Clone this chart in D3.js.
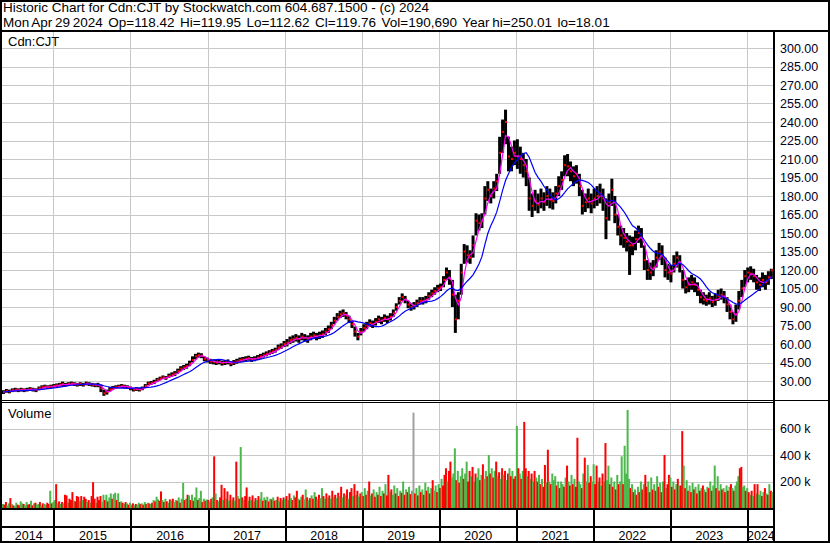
<!DOCTYPE html>
<meta charset="utf-8">
<script src="https://cdn.jsdelivr.net/npm/d3@7"></script>
<body style="margin:0">
<script>

// header texts
var title1 = "Historic Chart for Cdn:CJT by Stockwatch.com 604.687.1500 - (c) 2024";
var title2 = "Mon Apr 29 2024  Op=118.42  Hi=119.95  Lo=112.62  Cl=119.76  Vol=190,690  Year hi=250.01  lo=18.01";

// price bars, one every 14 days from 2 May 2014
var firstBar = new Date(2014, 4, 2);
var close = [
  21,22,21.5,22.5,23,22.5,23,22.5,23,23.5,23,22.5,24,25,25.5,25,25.5,26,
  26.5,27,27.5,27,27.5,28,27.5,27,27.5,27,28,27.5,27,26.5,27,24,20,21,23,24.5,25,25.5,26,25.5,25,24,
  23,23.5,23,24,26,28,28.5,29,31,32,33,32.5,34,35,36,38,40,41,42,44,47,50,51,50.5,48,47,
  46,45.5,45,45.5,44.5,45,45.5,44,45,46,47,47.5,48,48.5,47.5,48,49,50,51,52,53,54,55,57,58,60,
  61,63,64,65,64,66,65,64,66,67,66,67,68,70,72,75,79,82,84,85,83,80,76,70,66,70,
  73,75,77,76,78,80,79,81,80,82,85,90,95,98,96,92,90,91,93,95,95,96,99,101,103,105,
  106,112,118,113,100,80,95,118,135,132,130,140,160,158,160,178,185,180,186,192,215,232,240,212,210,215,
  212,210,205,200,178,172,176,173,178,175,180,177,176,182,188,193,205,204,200,196,198,188,172,175,178,174,
  178,180,182,178,162,175,185,165,155,148,146,143,140,140,145,150,146,128,120,118,122,130,135,132,120,118,
  117,125,130,126,112,106,108,110,108,104,98,96,95,97,94,96,99,100,98,92,86,80,84,95,105,115,
  118,117,115,110,108,112,110,114,119.76];
var high = [
  22.5,23.5,23,24,24.5,24,24.5,24,24.5,25,24.5,24,25.5,26.5,27,26.5,27,27.5,
  28,28.5,29.5,28.5,29,29.5,29,28.5,29,28.5,29.5,29,28.5,28,28.5,27,23,23,25,26,26.5,27,27.5,27,26.5,25.5,
  24.5,25,24.5,25.5,27.5,29.5,30,31,32.5,33.5,34.5,34,36,37,38,40,42,43,44,46.5,50,52,53,52.5,50,49,
  48,47.5,47,47.5,46.5,47,47.5,46,47,48,49,49.5,50,50.5,49.5,50,51,52,53,54,55,56,57,59.5,60.5,62.5,
  64,66,67,68,67,69,68,67,69,70,69,70,71,73,75,78,82,85,87,88,86,83,79,74,69,73,
  76,78,80,79,81,83,82,84,83,85,88,93,98,101,99,95,93,94,96,98,98,99,102,104,106,108,
  109,115,122,120,112,100,102,125,141,140,136,148,166,165,166,188,192,186,192,198,228,242,250,228,220,225,
  226,220,215,210,195,182,185,182,186,183,188,186,183,188,196,200,213,214,208,204,205,198,185,182,186,182,
  186,188,190,186,178,182,194,180,165,156,154,150,148,147,152,156,154,140,128,126,128,136,142,140,130,125,
  124,132,135,132,120,112,114,116,114,110,104,102,100,102,99,101,104,105,103,98,92,86,92,103,112,120,
  122,123,121,116,114,118,116,119,121];
var low = [
  19.5,20.5,20,21,21.5,21,21.5,21,21.5,22,21.5,21,22.5,23.5,24,23.5,24,24.5,
  25,25.5,26,25.5,26,26.5,26,25.5,26,25.5,26.5,26,25.5,25,25,21,18,19,21.5,23,23.5,24,24.5,24,23.5,22.5,
  21.5,22,21.5,22.5,24.5,26.5,27,27.5,29.5,30.5,31.5,31,32.5,33.5,34,36,38,39,40,42,45,47.5,49,48.5,46,45,
  44,43.5,43,43.5,42.5,43,43.5,42,43,44,45,45.5,46,46.5,45.5,46,47,48,49,50,51,52,53,55,56,57.5,
  58,60,61,62,61,63,62,61,63,64,63,64,65,67,69,72,76,79,81,82,80,77,73,66,63,67,
  70,72,74,73,75,77,76,78,77,79,82,87,92,95,93,89,87,88,90,92,92,93,96,98,100,102,
  103,106,112,108,90,69,80,100,125,126,125,130,148,152,154,165,176,174,178,184,198,215,222,200,200,205,
  202,198,195,188,168,163,168,166,170,168,172,170,169,174,180,185,196,196,192,188,190,180,165,167,170,166,
  170,172,174,168,145,160,172,158,148,140,138,135,116,132,136,142,138,120,112,112,115,122,128,124,114,112,
  110,118,122,118,105,101,102,104,102,99,93,92,91,92,90,91,95,96,93,86,80,76,78,88,98,106,
  110,112,110,104,103,106,104,108,112.62];

// weekly volume in thousands from 2 May 2014, negative = down week
var firstWeek = new Date(2014, 4, 2);
var volume = [
  30,-25,-45,20,35,-75,30,-20,15,40,-25,-20,50,35,-30,20,45,-25,-30,55,-20,35,-40,25,30,-45,20,-35,30,25,-40,-30,130,-35,45,
  60,-180,35,-50,30,-45,35,-100,-95,40,-70,-60,-120,55,-50,-90,-85,50,-90,60,-85,-70,45,-60,40,-90,-195,-70,40,-85,-60,-90,45,100,-60,100,-50,80,110,-70,105,115,-60,110,-45,50,-40,30,-45,35,-25,40,
  25,-35,20,-30,25,40,-30,35,-25,45,-30,40,-35,30,-40,60,-50,85,65,-55,-125,60,-45,70,-50,40,-65,55,-70,45,60,-55,80,-40,70,190,-60,70,-100,95,-60,100,-55,80,155,-60,75,130,-45,70,-55,65,
  -60,45,-70,80,-390,110,-60,50,-80,-175,60,-150,70,-125,55,-100,60,-80,55,-350,90,-70,460,-80,60,-90,-155,55,-85,60,-95,50,-75,60,-90,70,120,-55,80,-60,85,-50,70,-65,80,-55,60,-85,50,-75,60,-80,
  70,-90,60,-110,75,-60,95,-80,-130,70,-60,85,-100,65,140,-80,60,-75,95,-70,120,-85,65,-100,75,150,-90,70,-110,80,-95,70,-130,85,-100,75,-115,90,-160,80,-110,95,-140,70,-120,-150,90,-180,100,-130,85,-110,
  120,-90,150,-100,130,-200,95,-110,140,-85,120,-100,160,-90,130,-110,180,-95,-250,120,-140,100,170,-110,150,-90,130,-115,200,-100,140,-120,160,-105,130,720,-110,150,-95,170,-120,140,-100,190,-130,160,-110,150,-210,130,170,-120,
  180,-150,220,-170,-250,-300,200,-280,-350,230,260,450,-210,280,-190,240,300,-220,260,350,-200,-280,240,-310,200,-260,230,300,-210,250,-330,220,280,-240,400,-260,300,-230,280,-350,240,-270,220,-300,250,-280,210,-260,300,-240,280,-220,
  -240,620,-300,260,-220,280,-650,-300,240,-280,220,-260,200,-280,230,-200,250,-180,220,-160,-325,190,-440,200,-180,260,210,240,-170,200,-150,200,180,-160,230,-320,200,-170,250,-180,220,-160,-530,200,180,-150,260,-380,200,325,-190,-240,
  200,330,-180,-320,200,-230,170,-260,200,-490,210,320,-180,230,-160,200,-140,250,-180,200,390,-180,470,260,740,220,-150,180,-120,140,-100,160,-120,200,-140,180,-250,-160,200,-120,230,-140,180,-130,240,-160,190,-120,200,-400,150,-180,
  -250,230,-160,200,-140,180,-220,170,-170,-580,320,-150,210,-130,170,-120,190,-140,160,-110,180,-130,150,-170,140,-120,160,-150,200,-130,170,320,-150,240,-130,180,-140,150,-120,170,-130,160,-180,150,-130,170,200,240,-300,-310,160,170,
  -130,150,-120,100,-130,90,-180,110,-180,100,130,-90,120,-150,110,-100,180,-130,120];
var flatWeeks = [278];

var priceTicks = [30,45,60,75,90,105,120,135,150,165,180,195,210,225,240,255,270,285,300];
var volumeTicks = [200,400,600];
var years = [2014,2015,2016,2017,2018,2019,2020,2021,2022,2023,2024];

var svg = d3.select("body").append("svg")
    .attr("width", 830)
    .attr("height", 543)
    .style("font-family", "Arial, 'Liberation Sans', sans-serif");

svg.append("rect").attr("width", 830).attr("height", 543).attr("fill", "#fff");

var x = d3.scaleTime().domain([new Date(2014, 4, 2), new Date(2024, 4, 4)]).range([2, 773]);
var yP = d3.scaleLinear().domain([30, 300]).range([381, 48]);
var yV = d3.scaleLinear().domain([0, 600]).range([508, 428.5]);

var yearStarts = years.slice(1).map(function(y) { return new Date(y, 0, 1); });

// grid
var grid = svg.append("g").attr("stroke", "#c8c8c8").attr("stroke-width", 1);
grid.selectAll(".hp").data(priceTicks).enter().append("line")
    .attr("x1", 2).attr("x2", 773)
    .attr("y1", function(d) { return Math.round(yP(d)) + 0.5; })
    .attr("y2", function(d) { return Math.round(yP(d)) + 0.5; });
grid.selectAll(".hv").data(volumeTicks).enter().append("line")
    .attr("x1", 2).attr("x2", 773)
    .attr("y1", function(d) { return Math.round(yV(d)) + 0.5; })
    .attr("y2", function(d) { return Math.round(yV(d)) + 0.5; });
grid.selectAll(".vp").data(yearStarts).enter().append("line")
    .attr("x1", function(d) { return Math.round(x(d)) + 0.5; })
    .attr("x2", function(d) { return Math.round(x(d)) + 0.5; })
    .attr("y1", 32).attr("y2", 400);
grid.selectAll(".vv").data(yearStarts).enter().append("line")
    .attr("x1", function(d) { return Math.round(x(d)) + 0.5; })
    .attr("x2", function(d) { return Math.round(x(d)) + 0.5; })
    .attr("y1", 403).attr("y2", 508);

svg.append("clipPath").attr("id", "pclip").append("rect")
    .attr("x", 2).attr("y", 32).attr("width", 771).attr("height", 368);

// price bars
var bars = close.map(function(c, i) {
  return {date: d3.timeDay.offset(firstBar, 14 * i), close: c, high: high[i], low: low[i]};
});
var price = svg.append("g").attr("clip-path", "url(#pclip)");
price.selectAll(".bar").data(bars).enter().append("rect")
    .attr("x", function(d) { return x(d.date); })
    .attr("width", 3)
    .attr("y", function(d) { return yP(d.high); })
    .attr("height", function(d) { return Math.max(1, yP(d.low) - yP(d.high)); })
    .attr("fill", "#000");
price.selectAll(".cl").data(bars).enter().append("rect")
    .attr("x", function(d) { return x(d.date) + 1; })
    .attr("width", 2)
    .attr("y", function(d) { return yP(d.close) - 1; })
    .attr("height", 2)
    .attr("fill", "#ff0000");

// moving averages of the closes
function movingAvg(n) {
  return bars.map(function(d, i) {
    return {date: d.date, value: d3.mean(close.slice(Math.max(0, i - n + 1), i + 1))};
  });
}
var line = d3.line()
    .x(function(d) { return x(d.date) + 1.5; })
    .y(function(d) { return yP(d.value); });
price.append("path").datum(movingAvg(3)).attr("d", line)
    .attr("fill", "none").attr("stroke", "#ff00ff").attr("stroke-width", 1.2);
price.append("path").datum(movingAvg(10)).attr("d", line)
    .attr("fill", "none").attr("stroke", "#0000ff").attr("stroke-width", 1.2);

// volume
svg.append("g").selectAll("rect").data(volume).enter().append("rect")
    .attr("x", function(d, i) { return x(d3.timeDay.offset(firstWeek, 7 * i)); })
    .attr("width", 2)
    .attr("y", function(d) { return yV(Math.abs(d)); })
    .attr("height", function(d) { return 508 - yV(Math.abs(d)); })
    .attr("fill", function(d, i) {
      if (flatWeeks.indexOf(i) >= 0) return "#a0a0a0";
      return d < 0 ? "#ff0000" : "#4cb84c";
    });

// frame lines
var frame = svg.append("g").attr("fill", "#000");
frame.append("rect").attr("x", 0).attr("y", 30).attr("width", 830).attr("height", 2);
frame.append("rect").attr("x", 773).attr("y", 30).attr("width", 2).attr("height", 513);
frame.append("rect").attr("x", 0).attr("y", 400).attr("width", 830).attr("height", 1);
frame.append("rect").attr("x", 0).attr("y", 402).attr("width", 773).attr("height", 1);
frame.append("rect").attr("x", 0).attr("y", 508).attr("width", 773).attr("height", 2);
frame.append("rect").attr("x", 0).attr("y", 526).attr("width", 773).attr("height", 2);
frame.selectAll(".sep").data(yearStarts).enter().append("rect")
    .attr("x", function(d) { return Math.round(x(d)); })
    .attr("y", 510).attr("width", 2).attr("height", 33);
svg.append("rect").attr("x", 1).attr("y", 1).attr("width", 828).attr("height", 541)
    .attr("fill", "none").attr("stroke", "#000").attr("stroke-width", 2);

// texts
svg.append("text").attr("x", 3).attr("y", 12).attr("font-size", "13.5px").text(title1);
svg.append("text").attr("x", 3).attr("y", 26.5).attr("font-size", "13.5px")
    .attr("word-spacing", "-1px")
    .style("white-space", "pre").text(title2);
svg.append("text").attr("x", 8).attr("y", 46).attr("font-size", "13px").text("Cdn:CJT");
svg.append("text").attr("x", 8).attr("y", 418).attr("font-size", "13px").text("Volume");

svg.selectAll(".pl").data(priceTicks).enter().append("text")
    .attr("x", 780).attr("y", function(d) { return yP(d) + 4.5; })
    .attr("font-size", "12.5px").attr("fill", "#000020")
    .text(function(d) { return d3.format(".2f")(d); });
svg.selectAll(".vl").data(volumeTicks).enter().append("text")
    .attr("x", 780).attr("y", function(d) { return yV(d) + 4.5; })
    .attr("font-size", "12.5px").attr("fill", "#000020")
    .text(function(d) { return d + " k"; });

var bounds = [x.range()[0]].concat(yearStarts.map(x), [x.range()[1]]);
svg.selectAll(".yl").data(years).enter().append("text")
    .attr("x", function(d, i) { return (bounds[i] + bounds[i + 1]) / 2 + 1; })
    .attr("y", 540)
    .attr("text-anchor", "middle")
    .attr("font-size", "12.5px")
    .text(String);

</script>
</body>
